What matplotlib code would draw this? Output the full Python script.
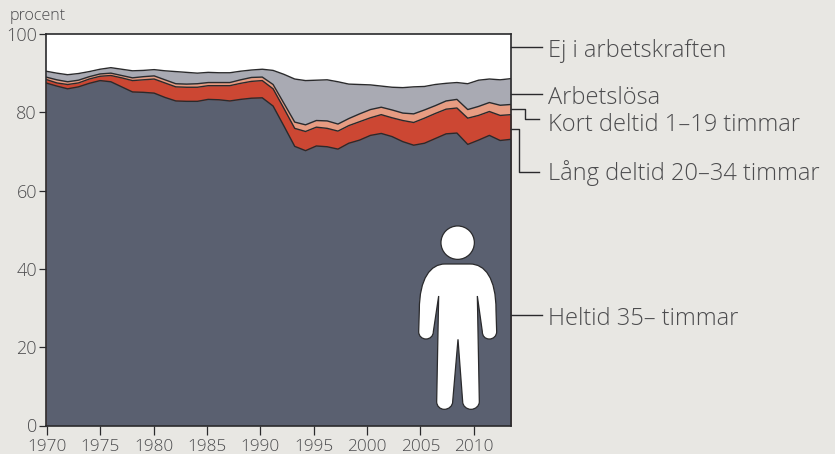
import numpy as np
import matplotlib
matplotlib.use("Agg")
import matplotlib.pyplot as plt
from matplotlib.path import Path
from matplotlib.patches import PathPatch, Circle
from matplotlib.lines import Line2D
from matplotlib.transforms import Affine2D

W, H = 835, 454
plt.rcParams['font.family'] = ['Open Sans', 'DejaVu Sans']

years = np.arange(1970, 2014)
heltid_top = [87.5,86.7,86.0,86.5,87.4,88.1,87.8,86.5,85.2,85.1,84.9,83.8,82.9,82.8,82.8,83.3,83.2,82.9,83.3,83.6,83.7,81.6,76.5,
              71.3,70.2,71.4,71.2,70.6,72.1,72.9,74.1,74.6,73.8,72.5,71.6,72.1,73.3,74.5,74.7,71.8,72.9,74.1,72.8,73.1]
lang_top = [88.4,87.5,87.1,87.5,88.5,89.2,89.4,88.8,88.1,88.3,88.5,87.5,86.5,86.4,86.4,86.8,86.8,86.8,87.4,87.9,88.1,86.0,81.0,
            75.9,75.1,76.2,75.9,75.2,76.6,77.6,78.6,79.4,78.6,77.9,77.4,78.5,79.7,80.8,81.1,78.5,79.2,80.2,79.2,79.4]
kort_top = [89.0,88.3,87.8,88.2,89.1,89.8,90.0,89.4,88.8,89.1,89.3,88.3,87.3,87.2,87.3,87.6,87.6,87.6,88.3,88.9,89.0,87.1,82.3,
            77.5,76.8,77.9,77.8,77.0,78.4,79.6,80.7,81.3,80.6,79.8,79.6,80.6,81.7,82.9,83.3,80.7,81.5,82.5,81.8,82.0]
arbetslos_top = [90.5,90.0,89.6,89.9,90.4,91.0,91.4,91.0,90.6,90.7,90.9,90.6,90.4,90.2,90.0,90.2,90.1,90.1,90.5,90.8,91.0,90.7,89.7,
                 88.5,88.1,88.2,88.3,87.8,87.2,87.1,87.0,86.7,86.4,86.3,86.5,86.6,87.1,87.4,87.6,87.3,88.2,88.5,88.3,88.6]
xtick_years = list(range(1970, 2011, 5))
ytick_vals = [0, 20, 40, 60, 80, 100]

INK = '#2a2a2c'
TXT = '#4c4c4e'
BG = '#E8E7E3'

fig = plt.figure(figsize=(W/100, H/100), dpi=100, facecolor=BG)
L, R, T, B = 46, 511, 34, 425.5
ax = fig.add_axes([L/W, 1-B/H, (R-L)/W, (B-T)/H])
ax.set_facecolor('white')
ax.set_xlim(1970, 2013)
ax.set_ylim(0, 100)

layers = [(arbetslos_top, '#A9AAB3'), (kort_top, '#E79C82'), (lang_top, '#CC4733'), (heltid_top, '#5A6070')]
for v, c in layers:
    ax.fill_between(years, 0, v, color=c, lw=0)
    ax.plot(years, v, color=INK, lw=1.0, solid_joinstyle='round')

for s in ax.spines.values():
    s.set_color(INK)
    s.set_linewidth(1.2)
# the reference's tick marks run slightly tighter than its data spacing
tick_pitch = 0.9865
ax.set_xticks([1970.1 + (y - 1970) * tick_pitch for y in xtick_years], [str(y) for y in xtick_years])
ax.set_yticks(ytick_vals, [str(v) for v in ytick_vals])
ax.tick_params(axis='x', length=6.2, width=0.9, color=INK, labelcolor=TXT, labelsize=12.4, pad=3.8)
ax.tick_params(axis='y', length=5, width=0.9, color=INK, labelcolor=TXT, labelsize=13, pad=1.5)
for lab in ax.get_xticklabels() + ax.get_yticklabels():
    lab.set_fontweight('light')

def px(x, y):
    return x/W, 1-y/H

fig.text(*px(10, 16.5), 'procent', color=TXT, fontsize=11.6, va='center', ha='left', fontweight='light')

leaders = [[(511, 47.3), (542, 47.3)],
           [(511, 94), (542, 94)],
           [(511, 108.7), (525, 108.7), (525, 118.7), (539, 118.7)],
           [(511, 128.7), (519, 128.7), (519, 171.7), (539, 171.7)],
           [(511, 314.7), (542, 314.7)]]
for pts in leaders:
    xs, ys = zip(*[px(*p) for p in pts])
    fig.add_artist(Line2D(xs, ys, color=INK, lw=1.0, transform=fig.transFigure))

labels = [('Ej i arbetskraften', 51), ('Arbetslösa', 98.5), ('Kort deltid 1–19 timmar', 124.5),
          ('Lång deltid 20–34 timmar', 173.5), ('Heltid 35– timmar', 319)]
for s, y in labels:
    fig.text(*px(548, y), s, color=TXT, fontsize=17, va='center', ha='left', fontweight='light')

to_disp = Affine2D().scale(1, -1).translate(0, H)
M, C, LL = Path.MOVETO, Path.CURVE4, Path.LINETO
def zp(x, y):
    return 400 + x/3, 210 + y/3
verts = [(135,162),(210,162),(255,162),(288,205),(288,300),(290,365),(290,378),(280,387),(268,387),(255,387),(247,378),(247,365),
         (232,258),(238,575),(238,588),(226,598),(213,598),(200,598),(188,588),(188,575),(174,388),(158,575),(158,588),(146,598),(133,598),
         (120,598),(110,588),(110,575),(116,258),(100,365),(100,378),(90,387),(78,387),(66,387),(56,378),(56,365),(58,300),(58,205),(92,162),(135,162)]
codes = [M, LL, C, C, C, LL, C, C, C, C, C, C, LL, LL, C, C, C, C, C, C, LL, LL, C, C, C, C, C, C, LL, LL, C, C, C, C, C, C, LL, C, C, C]
body = Path([zp(*v) for v in verts], codes)
fig.add_artist(PathPatch(body, facecolor='white', edgecolor=INK, lw=0.9, transform=to_disp, zorder=5))
fig.add_artist(Circle(zp(173, 98), 16.7, facecolor='white', edgecolor=INK, lw=0.9, transform=to_disp, zorder=5))

fig.savefig('out.png', dpi=100, facecolor=BG)
